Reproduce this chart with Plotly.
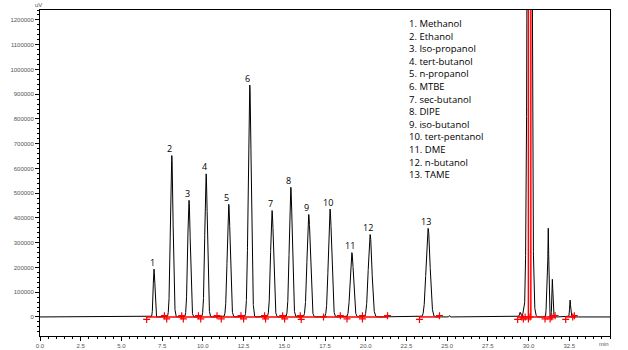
import numpy as np
import plotly.graph_objects as go

# ---- data ----
compounds = ["Methanol", "Ethanol", "Iso-propanol", "tert-butanol", "n-propanol", "MTBE",
             "sec-butanol", "DIPE", "iso-butanol", "tert-pentanol", "DME", "n-butanol", "TAME"]
peak_times = [7.00, 8.09, 9.15, 10.20, 11.59, 12.88, 14.25, 15.40, 16.50, 17.81, 19.15, 20.27, 23.83]
peak_heights = [193000, 652000, 471000, 578000, 455000, 937000, 430000, 524000, 414000, 436000,
                260000, 333000, 358000]
peak_sigmas = [0.05, 0.08, 0.08, 0.08, 0.09, 0.09, 0.09, 0.09, 0.10, 0.10, 0.10, 0.11, 0.12]

# unlabelled peaks (solvent region, late eluters)
extra_times = [25.14, 29.48, 29.69, 29.82, 30.06, 30.25, 31.12, 31.21, 31.46, 32.55]
extra_heights = [6000, 19000, 22000, 55000, 5000000, 50000, 95000, 357000, 152000, 68000]
extra_sigmas = [0.02, 0.04, 0.04, 0.04, 0.095, 0.10, 0.03, 0.03, 0.03, 0.03]

# integration baselines (start, end) and event markers
baseline_segments = [(6.57, 21.34), (23.30, 24.53), (29.33, 31.63), (32.28, 32.81)]
marker_times = [6.55, 7.64, 7.78, 8.70, 8.80, 9.73, 9.87, 10.87, 11.13, 12.34, 12.50, 13.79, 13.85,
                14.90, 15.02, 15.98, 16.04, 17.41, 18.44, 18.85, 19.80, 19.80, 21.34,
                23.30, 24.53, 29.33, 29.58, 29.68, 29.79, 29.99, 30.09, 31.01, 31.32, 31.42,
                31.63, 32.28, 32.71, 32.81]
marker_levels = [-10000, 5000, -8000, 5000, -8000, 5000, -8000, 5000, -8000, 5000, -8000, 5000, -8000,
                 5000, -8000, 5000, -10000, 0, 5000, -8000, 5000, -8000, 5000,
                 -10000, 5000, -10000, 0, -8000, 0, -8000, 0, -8000, -8000, 0,
                 5000, -10000, 0, 5000]
solvent_markers = [29.99, 30.14]

x_tickvals = [0, 2.5, 5, 7.5, 10, 12.5, 15, 17.5, 20, 22.5, 25, 27.5, 30, 32.5]
y_tickvals = list(range(0, 1200001, 100000))

# ---- build chromatogram trace ----
t = np.linspace(0, 35, 14001)
sig = np.zeros_like(t)
for c, h, s in zip(peak_times + extra_times, peak_heights + extra_heights, peak_sigmas + extra_sigmas):
    sig += h * np.exp(-0.5 * ((t - c) / s) ** 2)

fig = go.Figure()

fig.add_trace(go.Scatter(x=t, y=sig, mode="lines", line=dict(color="black", width=1),
                         hoverinfo="skip", showlegend=False))

bx, by = [], []
for a, b in baseline_segments:
    bx += [a, b, None]
    by += [0, 0, None]
fig.add_trace(go.Scatter(x=bx, y=by, mode="lines", line=dict(color="#ff0000", width=1.5),
                         showlegend=False, hoverinfo="skip"))

vx, vy = [], []
for m in solvent_markers:
    vx += [m, m, None]
    vy += [0, 2000000, None]
fig.add_trace(go.Scatter(x=vx, y=vy, mode="lines", line=dict(color="#ff0000", width=1.5),
                         showlegend=False, hoverinfo="skip"))

fig.add_trace(go.Scatter(x=marker_times, y=marker_levels, mode="markers",
                         marker=dict(symbol="cross-thin", size=5, line=dict(color="#ff0000", width=1.2)),
                         showlegend=False, hoverinfo="skip", cliponaxis=False))

# peak number labels
for i, (c, h) in enumerate(zip(peak_times, peak_heights)):
    fig.add_annotation(x=c, y=h, text=str(i + 1), showarrow=False, yshift=7, xshift=-2,
                       font=dict(family="Open Sans", size=9, color="black"))

# compound list
x0 = 40
pw = 570
ph = 326
for i, name in enumerate(compounds):
    py = 23.5 + i * 12.6
    fig.add_annotation(xref="paper", yref="paper", x=(407 - x0) / pw, y=(336 - py) / ph,
                       text=f"{i + 1}. {name}", showarrow=False, xanchor="left", yanchor="middle",
                       font=dict(family="Open Sans", size=9.5, color="black"))

# axis unit labels
fig.add_annotation(xref="paper", yref="paper", x=(38 - x0) / pw, y=(336 - 5) / ph, text="uV",
                   showarrow=False, xanchor="center", yanchor="middle",
                   font=dict(family="Liberation Sans", size=6, color="#555"))
fig.add_annotation(xref="paper", yref="paper", x=(604 - x0) / pw, y=(336 - 343.5) / ph, text="min",
                   showarrow=False, xanchor="center", yanchor="middle",
                   font=dict(family="Liberation Sans", size=6, color="#555"))

fig.update_layout(
    width=628, height=350,
    margin=dict(l=40, r=18, t=10, b=14),
    plot_bgcolor="white", paper_bgcolor="white",
    xaxis=dict(range=[0, 35], showline=True, linecolor="black", linewidth=1, mirror=True,
               automargin=False,
               ticks="outside", ticklen=4, tickcolor="black",
               tickmode="array", tickvals=x_tickvals, ticktext=[f"{v:.1f}" for v in x_tickvals],
               minor=dict(ticks="outside", ticklen=2, tickcolor="black", dtick=0.5, tick0=0),
               showgrid=False, zeroline=False,
               tickfont=dict(family="Liberation Sans", size=6, color="#555")),
    yaxis=dict(range=[-77000, 1240000], showline=True, linecolor="black", linewidth=1, mirror=True,
               automargin=False,
               ticks="outside", ticklen=4, tickcolor="black",
               tickmode="array", tickvals=y_tickvals, ticktext=[str(v) for v in y_tickvals],
               minor=dict(ticks="outside", ticklen=2, tickcolor="black", dtick=20000, tick0=0),
               showgrid=False, zeroline=False,
               tickfont=dict(family="Liberation Sans", size=6, color="#555")),
)

fig.write_html("out.html")
